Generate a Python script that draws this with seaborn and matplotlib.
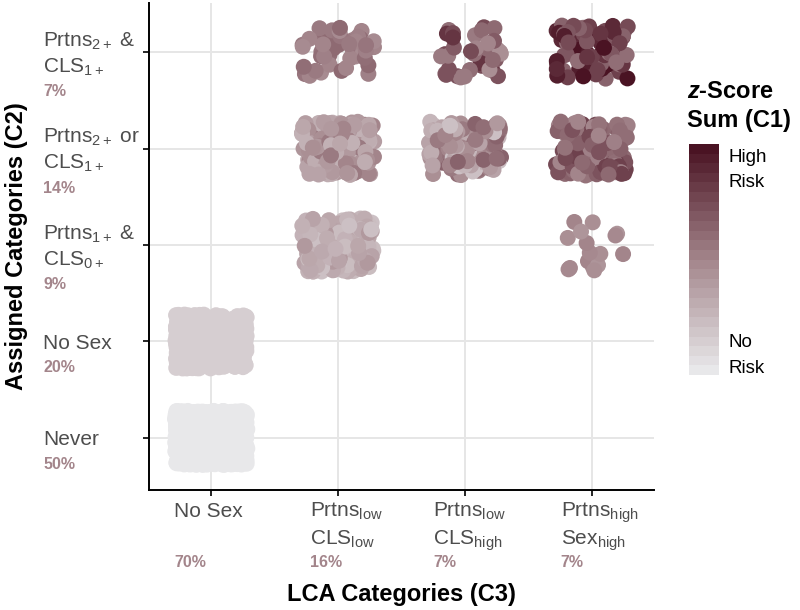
import numpy as np
import pandas as pd
import matplotlib
matplotlib.use("Agg")
import matplotlib.pyplot as plt
import seaborn as sns
import seaborn.objects as so
from matplotlib.colors import LinearSegmentedColormap, Normalize
from matplotlib import transforms
import matplotlib.colorbar as mcolorbar

# ---------------- data ----------------
lca_categories = ["No Sex", "PL-CL", "PL-CH", "PH-SH"]
lca_tick_lines = [["No Sex"],
                  [r"Prtns$_{\mathrm{low}}$", r"CLS$_{\mathrm{low}}$"],
                  [r"Prtns$_{\mathrm{low}}$", r"CLS$_{\mathrm{high}}$"],
                  [r"Prtns$_{\mathrm{high}}$", r"Sex$_{\mathrm{high}}$"]]
lca_pct = ["70%", "16%", "7%", "7%"]

assigned_categories = ["Never", "No Sex", "P1C0", "P2orC1", "P2andC1"]
assigned_tick_lines = [["Never"],
                       ["No Sex"],
                       [r"Prtns$_{1+}$ &", r"CLS$_{0+}$"],
                       [r"Prtns$_{2+}$ or", r"CLS$_{1+}$"],
                       [r"Prtns$_{2+}$ &", r"CLS$_{1+}$"]]
assigned_pct = ["50%", "20%", "9%", "14%", "7%"]

cell_lca = ["No Sex", "No Sex", "PL-CL", "PL-CL", "PL-CL", "PL-CH", "PL-CH", "PH-SH", "PH-SH", "PH-SH"]
cell_assigned = ["Never", "No Sex", "P1C0", "P2orC1", "P2andC1", "P2orC1", "P2andC1", "P1C0", "P2orC1", "P2andC1"]
cell_counts = [1000, 400, 170, 140, 45, 130, 40, 18, 120, 85]
cell_risk = [
    [0.0],
    [0.13],
    [0.22, 0.28, 0.30, 0.25, 0.35, 0.32, 0.27, 0.40, 0.20, 0.33],
    [0.30, 0.38, 0.45, 0.35, 0.50, 0.28, 0.42, 0.55, 0.33, 0.40],
    [0.50, 0.55, 0.60, 0.47, 0.62, 0.52, 0.57, 0.50],
    [0.25, 0.35, 0.45, 0.55, 0.30, 0.60, 0.40, 0.50, 0.20, 0.65],
    [0.50, 0.62, 0.75, 0.55, 0.85, 0.60, 0.68, 0.45, 0.72],
    [0.45, 0.48, 0.50, 0.42],
    [0.52, 0.62, 0.72, 0.58, 0.80, 0.50, 0.66, 0.76, 0.60],
    [0.70, 0.85, 0.95, 0.75, 1.00, 0.65, 0.80, 0.90, 0.60],
]

rows = []
for lca, asg, n, risks in zip(cell_lca, cell_assigned, cell_counts, cell_risk):
    for k in range(n):
        rows.append((lca, asg, risks[k % len(risks)]))
df = pd.DataFrame(rows, columns=["lca", "assigned", "risk"])

# ---------------- style ----------------
sns.set_theme(style="white")
plt.rcParams["font.family"] = ["Liberation Sans", "DejaVu Sans"]
plt.rcParams["mathtext.fontset"] = "custom"
plt.rcParams["mathtext.rm"] = "Liberation Sans"
plt.rcParams["mathtext.it"] = "Liberation Sans:italic"
plt.rcParams["mathtext.bf"] = "Liberation Sans:bold"
plt.rcParams["mathtext.bfit"] = "Liberation Sans:italic:bold"

cmap = LinearSegmentedColormap.from_list(
    "risk", [(0.0, "#e8e8ea"), (0.5, "#a3858b"), (1.0, "#4a1323")])

W, H = 800, 610
fig = plt.figure(figsize=(W / 100, H / 100), dpi=100)
ax_l, ax_r, ax_t, ax_b = 149, 654, 3, 490
ax = fig.add_axes([ax_l / W, 1 - ax_b / H, (ax_r - ax_l) / W, (ax_b - ax_t) / H])

(
    so.Plot(df, x="lca", y="assigned", color="risk")
    .add(so.Dot(pointsize=11.5, edgewidth=0, alpha=1.0),
         so.Jitter(x=0.57, y=0.56, seed=11), legend=False)
    .scale(x=so.Nominal(order=lca_categories),
           y=so.Nominal(order=assigned_categories),
           color=so.Continuous(cmap, norm=(0, 1)))
    .limit(x=(-0.49, 3.49), y=(-0.54, 4.51))
    .theme({**sns.axes_style("white")})
    .on(ax)
    .plot()
)

ax.set_xlim(-0.49, 3.49)
ax.set_ylim(-0.54, 4.51)
ax.set_facecolor("white")
ax.grid(True, which="major", color="#e6e6e6", linewidth=1.4)
ax.set_axisbelow(True)
for s in ["top", "right"]:
    ax.spines[s].set_visible(False)
for s in ["left", "bottom"]:
    ax.spines[s].set_visible(True)
    ax.spines[s].set_color("black")
    ax.spines[s].set_linewidth(1.4)
ax.tick_params(axis="both", which="major", length=4, width=1.2, color="black",
               direction="out", left=True, bottom=True,
               labelleft=False, labelbottom=False)
ax.set_xlabel("")
ax.set_ylabel("")

tick_col = "#4d4d4d"
pct_col = "#a3858b"
fs_tick = 15
fs_pct = 11.5

# y tick labels
ytrans = transforms.blended_transform_factory(fig.transFigure, ax.transData)
for i, (lines, pct) in enumerate(zip(assigned_tick_lines, assigned_pct)):
    if len(lines) == 2:
        offs = [5.5, -20.5]
        poff = -44
    else:
        offs = [-7.5]
        poff = -31
    for ln, o in zip(lines, offs):
        tr = transforms.offset_copy(ytrans, fig=fig, x=0, y=o, units="dots")
        ax.text(43 / W, i, ln, transform=tr, ha="left", va="baseline",
                fontsize=fs_tick, color=tick_col)
    tr = transforms.offset_copy(ytrans, fig=fig, x=0, y=poff, units="dots")
    ax.text(43 / W, i, pct, transform=tr, ha="left", va="baseline",
            fontsize=fs_pct, color=pct_col, fontweight="bold")

# x tick labels
xtrans = transforms.blended_transform_factory(ax.transData, fig.transFigure)
x_shift = [-37, -28, -32, -31]
for j, (lines, pct) in enumerate(zip(lca_tick_lines, lca_pct)):
    base = [517, 545]
    for ln, b in zip(lines, base):
        tr = transforms.offset_copy(xtrans, fig=fig, x=x_shift[j], y=0, units="dots")
        ax.text(j, 1 - b / H, ln, transform=tr, ha="left", va="baseline",
                fontsize=fs_tick, color=tick_col)
    tr = transforms.offset_copy(xtrans, fig=fig, x=x_shift[j], y=0, units="dots")
    ax.text(j, 1 - 567 / H, pct, transform=tr, ha="left", va="baseline",
            fontsize=fs_pct, color=pct_col, fontweight="bold")

# axis titles
fig.text((ax_l + ax_r) / 2 / W, 1 - 594 / H, "LCA Categories (C3)", ha="center",
         va="center", fontsize=17, fontweight="bold", color="black")
fig.text(17 / W, 1 - 246 / H, "Assigned Categories (C2)", ha="center",
         va="center", rotation=90, fontsize=17, fontweight="bold", color="black")

# colour bar
cax = fig.add_axes([689 / W, 1 - 375 / H, 30 / W, 231 / H])
cb = mcolorbar.ColorbarBase(cax, cmap=cmap.resampled(24), norm=Normalize(0, 1),
                            orientation="vertical")
cb.outline.set_visible(False)
cax.set_yticks([])
cax.set_xticks([])
fig.text(687 / W, 1 - 98 / H, r"$\mathbfit{z}$-Score", ha="left", va="baseline",
         fontsize=17, fontweight="bold", color="black")
fig.text(687 / W, 1 - 127 / H, "Sum (C1)", ha="left", va="baseline",
         fontsize=17, fontweight="bold", color="black")
for txt, b in [("High", 162), ("Risk", 187), ("No", 347), ("Risk", 373)]:
    fig.text(729 / W, 1 - b / H, txt, ha="left", va="baseline",
             fontsize=13.5, color="black")

fig.savefig("out.png", dpi=100)
